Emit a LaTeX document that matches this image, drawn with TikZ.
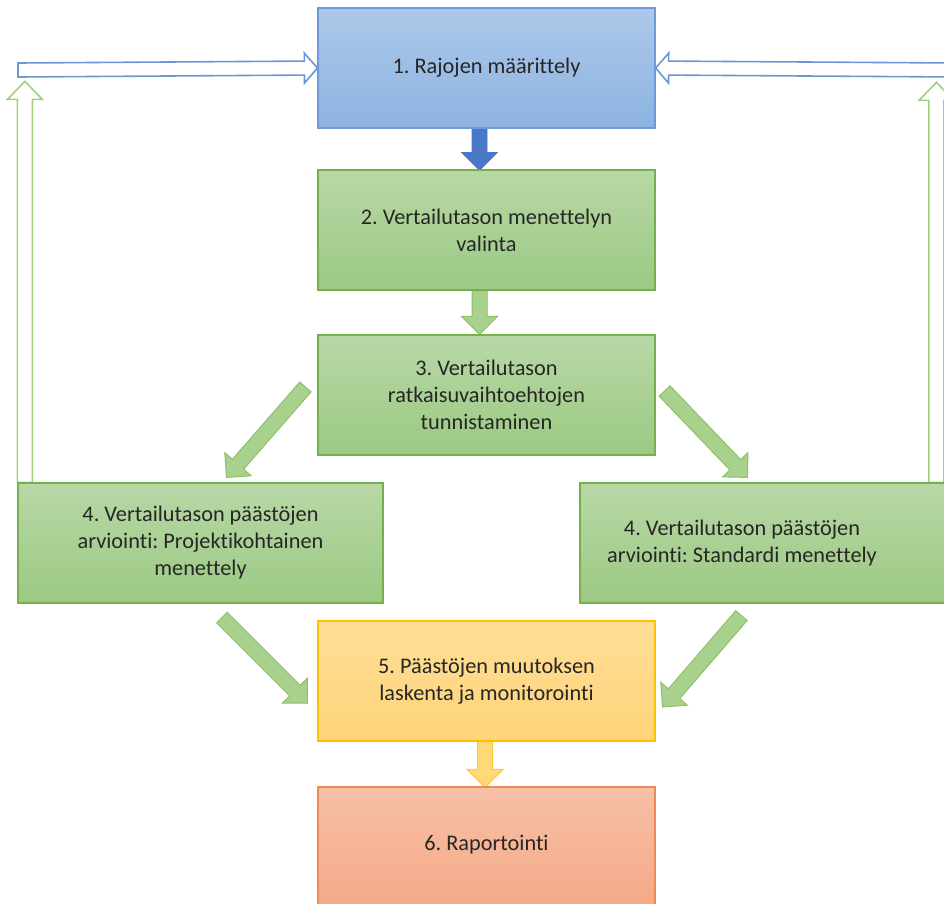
\documentclass[tikz,border=0pt]{standalone}
\usepackage{fontspec}
\setmainfont{Carlito}[Ligatures=NoCommon]
\usetikzlibrary{calc,backgrounds}

\definecolor{blueTop}{HTML}{ADC8EA}
\definecolor{blueBot}{HTML}{8DB3E2}
\definecolor{blueLine}{HTML}{6D9AD8}
\definecolor{greenTop}{HTML}{B8D8A6}
\definecolor{greenBot}{HTML}{9CC983}
\definecolor{greenLine}{HTML}{74B04C}
\definecolor{yellowTop}{HTML}{FFDE96}
\definecolor{yellowBot}{HTML}{FFD47A}
\definecolor{yellowLine}{HTML}{FFC000}
\definecolor{orangeTop}{HTML}{F7C0A6}
\definecolor{orangeBot}{HTML}{F4A582}
\definecolor{orangeLine}{HTML}{EE8A52}
\definecolor{arrowBlue}{HTML}{4A78C8}
\definecolor{arrowGreen}{HTML}{A9D18E}
\definecolor{arrowGreenLine}{HTML}{8CC168}
\definecolor{arrowYellow}{HTML}{FFD978}
\definecolor{arrowYellowLine}{HTML}{FFCB3A}
\definecolor{hollowBlue}{HTML}{6B96D8}
\definecolor{hollowGreen}{HTML}{9FD080}
\definecolor{textGray}{HTML}{262626}

% Block arrow: style, tail, tip, half shaft width, half head width, head length
\newcommand{\flowarrow}[6]{%
  \coordinate (fa-h) at ($(#3)!#6!(#2)$);
  \draw[#1] ($(#2)!#4!90:(#3)$) -- ($(fa-h)!#4!90:(#3)$) -- ($(fa-h)!#5!90:(#3)$)
    -- (#3) -- ($(fa-h)!#5!-90:(#3)$) -- ($(fa-h)!#4!-90:(#3)$)
    -- ($(#2)!#4!-90:(#3)$) -- cycle;}

\begin{document}
\frenchspacing
\begin{tikzpicture}[x=1pt,y=-1pt,
  box/.style={rectangle, draw, line width=1.2pt, inner sep=0pt, align=center,
    minimum width=337pt, minimum height=120pt, text=textGray,
    font=\fontsize{22.3}{27}\selectfont\frenchspacing},
  bluebox/.style={box, draw=blueLine, top color=blueTop, bottom color=blueBot},
  greenbox/.style={box, draw=greenLine, top color=greenTop, bottom color=greenBot},
  yellowbox/.style={box, draw=yellowLine, top color=yellowTop, bottom color=yellowBot},
  orangebox/.style={box, draw=orangeLine, top color=orangeTop, bottom color=orangeBot},
  boxtext/.style={align=center, inner sep=0pt, text=textGray,
    font=\fontsize{22.3}{27}\selectfont\frenchspacing},
  solidblue/.style={fill=arrowBlue, draw=arrowBlue, line width=0.8pt},
  solidgreen/.style={fill=arrowGreen, draw=arrowGreenLine, line width=1pt},
  solidyellow/.style={fill=arrowYellow, draw=arrowYellowLine, line width=1pt},
  openblue/.style={fill=white, draw=hollowBlue, line width=1.6pt},
  opengreen/.style={fill=white, draw=hollowGreen, line width=1.6pt}]

\useasboundingbox (0,0) rectangle (944,903);
\clip (0,0) rectangle (944,903);

% process boxes
\node[bluebox] (b1) at (486.5,68) {1. Rajojen määrittely};
\node[greenbox] (b2) at (486.5,230) {2. Vertailutason menettelyn\\valinta};
\node[greenbox] (b3) at (486.5,395) {3. Vertailutason\\ratkaisuvaihtoehtojen\\tunnistaminen};
\node[greenbox, minimum width=365pt] (b4l) at (200.5,543)
  {4. Vertailutason päästöjen\\arviointi: Projektikohtainen\\menettely};
\node[greenbox, minimum width=370pt] (b4r) at (765,543) {};
\node[boxtext] (b4rt) at (742,543) {4. Vertailutason päästöjen\\arviointi: Standardi menettely};
\node[yellowbox] (b5) at (486.5,681) {5. Päästöjen muutoksen\\laskenta ja monitorointi};
\node[orangebox, minimum height=140pt] (b6) at (486.5,857) {};
\node[boxtext] (b6t) at (486.5,845) {6. Raportointi};

% arrow end points
\coordinate (fb-lt) at (18,70);
\coordinate (fb-rt) at (955,70);
\coordinate (fg-lt) at ($(b4l.north west)+(7.5,0)$);
\coordinate (fg-lh) at ($(b4l.north west)+(7.5,-401)$);
\coordinate (fg-rt) at ($(b4r.north west)+(357,0)$);
\coordinate (fg-rh) at ($(b4r.north west)+(357,-400)$);
\coordinate (d1t) at ($(b3.west)+(-12,-8)$);
\coordinate (d1h) at ($(b4l.north)+(26,-5)$);
\coordinate (d2t) at ($(b3.east)+(9,-4)$);
\coordinate (d2h) at ($(b4r.north west)+(168,-5)$);
\coordinate (d3t) at ($(b4l.south)+(21.5,14)$);
\coordinate (d3h) at ($(b5.west)+(-10,22)$);
\coordinate (d4t) at ($(b4r.south west)+(162,12)$);
\coordinate (d4h) at ($(b5.east)+(7,26)$);
\coordinate (v1t) at ($(b1.south)+(-7,0)$);
\coordinate (v1h) at ($(b2.north)+(-7,1)$);
\coordinate (v2t) at ($(b2.south)+(-7,0)$);
\coordinate (v2h) at ($(b3.north)+(-7,0)$);
\coordinate (v5t) at ($(b5.south)+(-1.5,0)$);
\coordinate (v5h) at ($(b6.north)+(-1.5,1)$);

\begin{scope}[on background layer]
  % feedback arrows
  \flowarrow{opengreen}{fg-lt}{fg-lh}{7.5pt}{17.5pt}{18pt}
  \flowarrow{opengreen}{fg-rt}{fg-rh}{7.5pt}{17.5pt}{18pt}
  \flowarrow{openblue}{fb-lt}{b1.west}{7pt}{15pt}{13pt}
  \flowarrow{openblue}{fb-rt}{b1.east}{7pt}{15pt}{13pt}
  % main flow arrows
  \flowarrow{solidblue}{v1t}{v1h}{7.5pt}{18pt}{18pt}
  \flowarrow{solidgreen}{v2t}{v2h}{7.5pt}{18pt}{18pt}
  \flowarrow{solidyellow}{v5t}{v5h}{7.5pt}{18pt}{18pt}
  \flowarrow{solidgreen}{d1t}{d1h}{7.5pt}{17.5pt}{17.5pt}
  \flowarrow{solidgreen}{d2t}{d2h}{7.5pt}{17.5pt}{17.5pt}
  \flowarrow{solidgreen}{d3t}{d3h}{7.5pt}{17.5pt}{17.5pt}
  \flowarrow{solidgreen}{d4t}{d4h}{7.5pt}{17.5pt}{17.5pt}
\end{scope}
\end{tikzpicture}
\end{document}
